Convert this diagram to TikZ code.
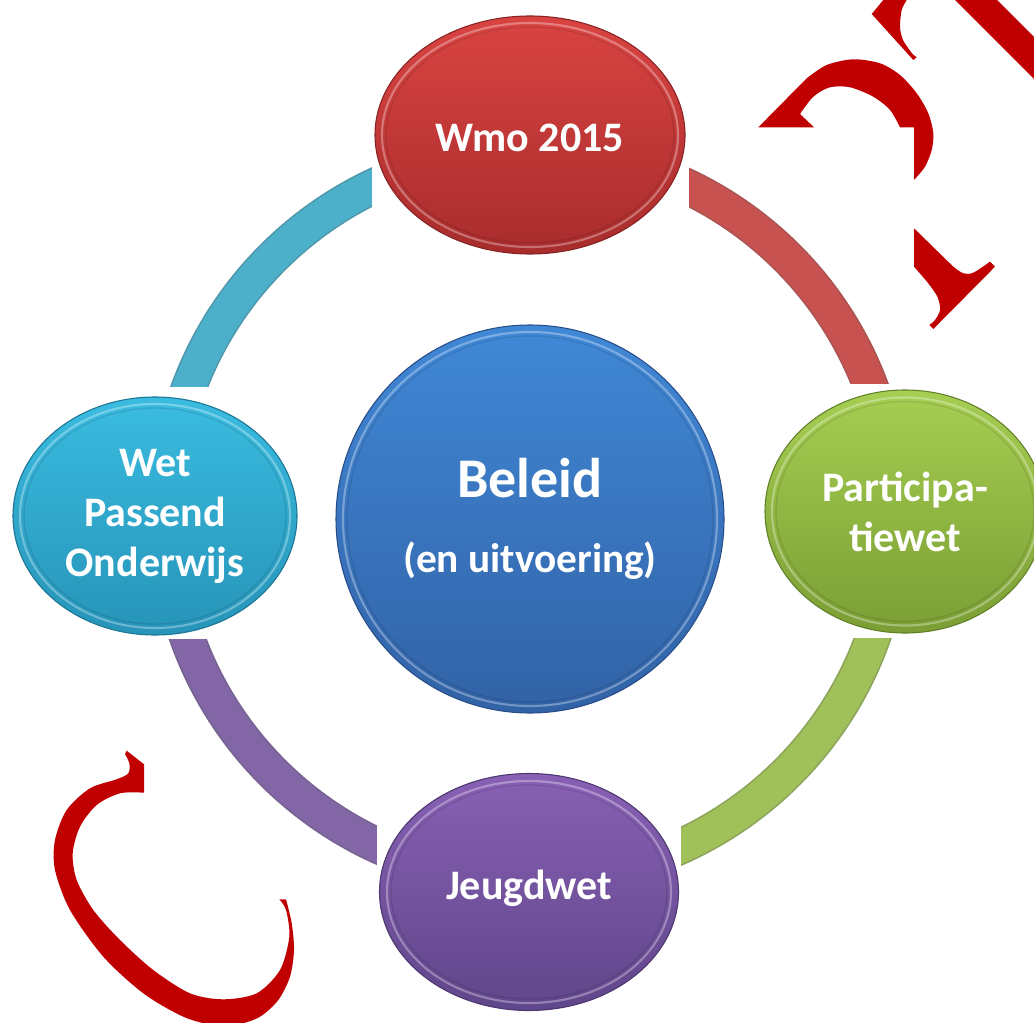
\documentclass[tikz,border=0pt]{standalone}
\usepackage{fontspec}
\setmainfont{Carlito}
\usetikzlibrary{shapes.geometric,calc}
\pgfdeclarelayer{bg}
\pgfsetlayers{bg,main}
\definecolor{redT}{RGB}{217,68,66}
\definecolor{redB}{RGB}{168,44,44}
\definecolor{redD}{RGB}{135,35,35}
\definecolor{bluT}{RGB}{64,136,214}
\definecolor{bluB}{RGB}{50,98,166}
\definecolor{bluD}{RGB}{40,78,138}
\definecolor{grnT}{RGB}{166,206,82}
\definecolor{grnB}{RGB}{122,158,52}
\definecolor{grnD}{RGB}{98,128,40}
\definecolor{cyaT}{RGB}{58,188,224}
\definecolor{cyaB}{RGB}{38,148,184}
\definecolor{cyaD}{RGB}{28,118,148}
\definecolor{purT}{RGB}{136,96,180}
\definecolor{purB}{RGB}{96,70,138}
\definecolor{purD}{RGB}{76,55,112}
\definecolor{arcR}{RGB}{200,82,80}
\definecolor{arcG}{RGB}{160,192,90}
\definecolor{arcP}{RGB}{130,102,166}
\definecolor{arcC}{RGB}{76,176,202}
\definecolor{deco}{RGB}{192,0,0}
\newcommand\mybevel[3]{%
  \draw[white, opacity=0.32, line width=1.6pt] (#1.center) ellipse [x radius=#2, y radius=#3];
  \draw[black, opacity=0.10, line width=1pt] (#1.center) ellipse [x radius=#2-4, y radius=#3-4];}
\newcommand\mycut[5]{%
  \fill[cutout] ($(#1.west |- #1.south)+(-#2,#5)$) rectangle ($(#1.east |- #1.north)+(#3,-#4)$);}
\begin{document}
\begin{tikzpicture}[x=0.75pt,y=-0.75pt,
  ell/.style={ellipse, inner sep=0pt, text=white, align=center,
    font=\bfseries\fontsize{31.5}{37.5}\selectfont, line width=0.8pt},
  ringdark/.style={line width=27pt, opacity=0.9},
  ringmain/.style={line width=24.5pt},
  cutout/.style={fill=white, draw=none}]
\useasboundingbox (0,0) rectangle (1034,1023);
\clip (0,0) rectangle (1034,1023);
\coordinate (ringc) at (530,515);

% nodes
\node[ell, minimum width=232.5pt, minimum height=178.5pt,
  top color=redT, bottom color=redB, draw=redD] (wmo) at (530,135)
  {\raisebox{-12.2pt}[0pt][0pt]{Wmo 2015}};
\node[ell, minimum width=210pt, minimum height=182.25pt,
  top color=grnT, bottom color=grnB, draw=grnD] (part) at (905,511.5) {Participa-\\tiewet};
\node[ell, minimum width=224.25pt, minimum height=177.75pt,
  top color=purT, bottom color=purB, draw=purD] (jeugd) at (529,892)
  {\raisebox{-5.8pt}[0pt][0pt]{Jeugdwet}};
\node[ell, minimum width=213pt, minimum height=178.5pt,
  top color=cyaT, bottom color=cyaB, draw=cyaD] (wpo) at (155,516) {Wet\\Passend\\Onderwijs};
\node[circle, inner sep=0pt, minimum size=291pt, text=white, align=center,
  top color=bluT, bottom color=bluB, draw=bluD, line width=0.8pt,
  font=\bfseries\fontsize{31}{56}\selectfont] (beleid) at (530,519)
  {{\fontsize{42}{50}\selectfont Beleid}\\(en uitvoering)};

\mybevel{wmo}{148}{112}
\mybevel{part}{133}{114}
\mybevel{jeugd}{142}{111}
\mybevel{wpo}{135}{112}
\mybevel{beleid}{187}{187}

% ring
\begin{pgfonlayer}{bg}
  \draw[ringdark, color=arcR!80!black] ([shift={(-90:364)}]ringc) arc[start angle=-90, end angle=0, radius=364];
  \draw[ringmain, color=arcR] ([shift={(-90:364)}]ringc) arc[start angle=-90, end angle=0, radius=364];
  \draw[ringdark, color=arcG!80!black] ([shift={(0:364)}]ringc) arc[start angle=0, end angle=90, radius=364];
  \draw[ringmain, color=arcG] ([shift={(0:364)}]ringc) arc[start angle=0, end angle=90, radius=364];
  \draw[ringdark, color=arcP!80!black] ([shift={(90:364)}]ringc) arc[start angle=90, end angle=180, radius=364];
  \draw[ringmain, color=arcP] ([shift={(90:364)}]ringc) arc[start angle=90, end angle=180, radius=364];
  \draw[ringdark, color=arcC!80!black] ([shift={(180:364)}]ringc) arc[start angle=180, end angle=270, radius=364];
  \draw[ringmain, color=arcC] ([shift={(180:364)}]ringc) arc[start angle=180, end angle=270, radius=364];
  % #1 node, #2 left, #3 right, #4 top, #5 bottom margins
  \mycut{wmo}{2}{3}{3}{3}
  \mycut{part}{3}{3}{5}{4}
  \mycut{jeugd}{2}{2}{3}{3}
  \mycut{wpo}{3}{3}{9}{3}
\end{pgfonlayer}

% red decorative fragments
\fill[deco] (871.7,14) -- (883.3,0) -- (906.7,0)
  -- plot[smooth] coordinates {(906.7,0)(901.7,10)(900,26.7)(903,40)(912.5,54)}
  -- (916.7,57.3) -- (913.3,60) -- cycle;
\fill[deco] (955,0) -- (997,0) -- (1034,37) -- (1034,79) -- cycle;
\fill[deco] (758.3,127.3) -- (806.7,78.3)
  -- plot[smooth] coordinates {(806.7,78.3)(826.7,65)(853.3,59.3)(880,63.3)(900,75)(916.7,93.3)(928.3,113.3)(933.3,133.3)(931.7,150)(925,166.7)(914,180)}
  -- (914,127.3) -- (900,127.3)
  -- plot[smooth] coordinates {(900,127.3)(890,110)(873.3,96.7)(850,87.3)(830,87.3)(813.3,96.7)(800,114)}
  -- (814,127.3) -- cycle;
\fill[deco] (914,228.3) -- (953.3,266.7)
  -- plot[smooth] coordinates {(953.3,266.7)(963.3,273.3)(973.3,272.7)(990,261.7)}
  -- (995,266.7) -- (933.3,329) -- (929.3,325)
  -- plot[smooth] coordinates {(929.3,325)(935,320)(940,310)(937.5,297)(928,283)(914,266.7)}
  -- cycle;
\fill[deco] (126.7,750.7) -- (144,764.3) -- (144,792.7)
  -- plot[smooth] coordinates {(144,792.7)(120,793.3)(96.7,805)(80,826.7)(72.7,853.3)(76.7,880)(93.3,910)(120,940)(153.3,970)(190,993.3)(223.3,999.3)(256.7,993.3)(280,970)(289.3,936.7)(286,910)(279.3,899.3)}
  -- (286,899.3)
  -- plot[smooth] coordinates {(286,899.3)(291.7,923.3)(294,950)(290,976.7)(278.3,1000)(260,1016.7)(236.7,1025)(216.7,1026)(183.3,1016.7)(143.3,993.3)(103.3,956.7)(70,910)(55,870)(55,840)(66.7,810)(90,788.3)(116.7,779.3)(128.3,773.3)(129.3,763.3)(125,754)}
  -- cycle;
\end{tikzpicture}
\end{document}
